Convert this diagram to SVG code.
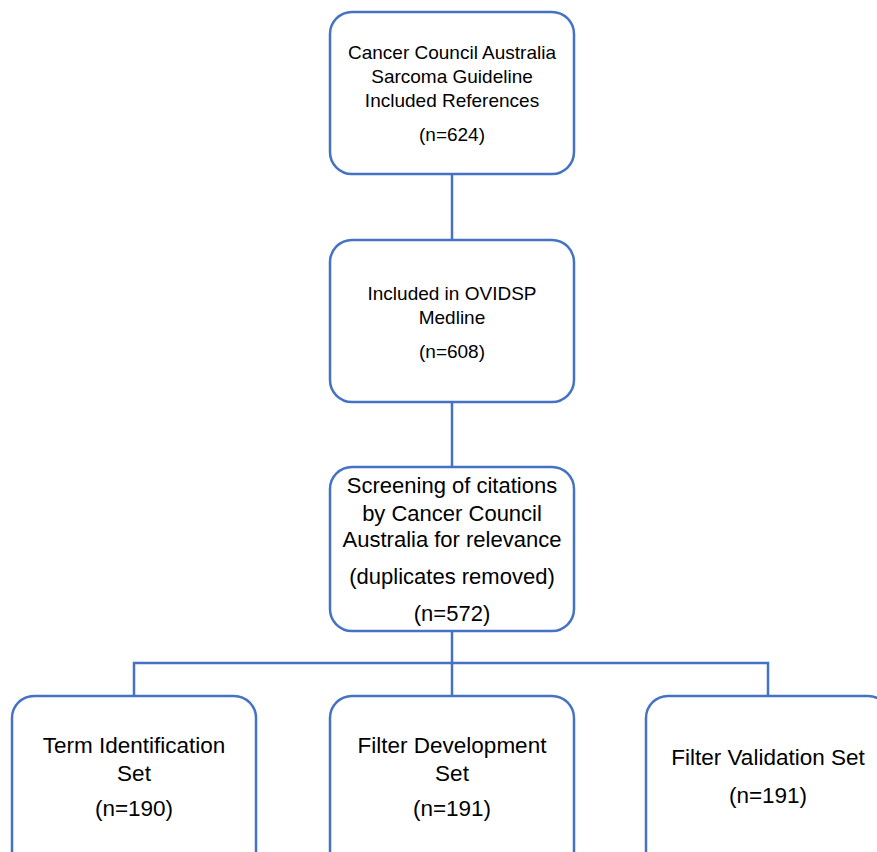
<svg xmlns="http://www.w3.org/2000/svg" width="877" height="852" viewBox="0 0 877 852">
<style>
.box{fill:#fff;stroke:#4472C4;stroke-width:2.5}
.ln{fill:none;stroke:#4472C4;stroke-width:2.5}
text{font-family:"Liberation Sans",Arial,sans-serif;fill:#000;text-anchor:middle}
.s{font-size:19px}
.m{font-size:22.5px}
.l{font-size:22px}
</style>
<rect width="877" height="852" fill="#fff"/>
<g id="connectors">
<line class="ln" x1="452" y1="174" x2="452" y2="240"/>
<line class="ln" x1="452" y1="402" x2="452" y2="467"/>
<line class="ln" x1="452" y1="631" x2="452" y2="696"/>
<polyline class="ln" points="134,696 134,663 768,663 768,696"/>
</g>
<g id="n1">
<rect class="box" x="330" y="12" width="244" height="162" rx="22"/>
<text class="s" x="452" y="59">Cancer Council Australia</text>
<text class="s" x="452" y="83">Sarcoma Guideline</text>
<text class="s" x="452" y="107">Included References</text>
<text class="s" x="452" y="141">(n=624)</text>
</g>
<g id="n2">
<rect class="box" x="330" y="240" width="244" height="162" rx="22"/>
<text class="s" x="452" y="300">Included in OVIDSP</text>
<text class="s" x="452" y="324">Medline</text>
<text class="s" x="452" y="358">(n=608)</text>
</g>
<g id="n3">
<rect class="box" x="330" y="467" width="244" height="164" rx="22"/>
<text class="l" x="452" y="493">Screening of citations</text>
<text class="l" x="452" y="521">by Cancer Council</text>
<text class="l" x="452" y="547">Australia for relevance</text>
<text class="l" x="452" y="584">(duplicates removed)</text>
<text class="l" x="452" y="621">(n=572)</text>
</g>
<g id="n4">
<rect class="box" x="12" y="696" width="244" height="180" rx="22"/>
<text class="m" x="134" y="753">Term Identification</text>
<text class="m" x="134" y="781">Set</text>
<text class="m" x="134" y="816">(n=190)</text>
</g>
<g id="n5">
<rect class="box" x="330" y="696" width="244" height="180" rx="22"/>
<text class="m" x="452" y="753">Filter Development</text>
<text class="m" x="452" y="781">Set</text>
<text class="m" x="452" y="816">(n=191)</text>
</g>
<g id="n6">
<rect class="box" x="646" y="696" width="244" height="180" rx="22"/>
<text class="m" x="768" y="765">Filter Validation Set</text>
<text class="m" x="768" y="803">(n=191)</text>
</g>
</svg>
